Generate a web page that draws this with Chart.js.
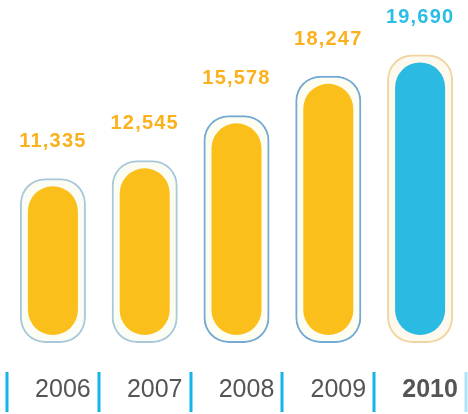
<!DOCTYPE html>
<html>
<head>
<meta charset="utf-8">
<script src="https://cdn.jsdelivr.net/npm/chart.js@4.4.1/dist/chart.umd.min.js"></script>
<style>
  html, body { margin: 0; padding: 0; background: #fff; }
  #wrap { width: 468px; height: 414px; }
</style>
</head>
<body>
<div id="wrap"><canvas id="tahunan"></canvas></div>
<script>
const years = ["2006", "2007", "2008", "2009", "2010"];
const totals = [11335, 12545, 15578, 18247, 19690];
const axisFloor = 1300;
const axisTop = 23900;
const fillColors = ["#fbbf1c", "#fbbf1c", "#fbbf1c", "#fbbf1c", "#2bbbe2"];
const ringColors = ["#a9c9da", "#a9c9da", "#74aad4", "#74aad4", "#efd5a2"];
const ringFills = ["#fbfdf4", "#fbfdf4", "#fdfdf2", "#fdfdf2", "#fdf9ee"];
const labelColors = ["#fab11d", "#fab11d", "#fab11d", "#fab11d", "#2cbde6"];

const tahunan = document.getElementById("tahunan");

// angka di atas batang
const angkaPlugin = {
  id: "angka",
  afterDatasetsDraw(chart) {
    const ctx = chart.ctx;
    const meta = chart.getDatasetMeta(0);
    ctx.save();
    ctx.font = "bold 20px 'Liberation Sans', Arial, sans-serif";
    ctx.letterSpacing = "1.2px";
    ctx.textAlign = "center";
    ctx.textBaseline = "alphabetic";
    meta.data.forEach((bar, i) => {
      ctx.fillStyle = labelColors[i];
      ctx.fillText(totals[i].toLocaleString("en-US"), bar.x, bar.y - 39);
    });
    ctx.restore();
  },
};

// garis biru pemisah tahun
const garisPlugin = {
  id: "garis",
  afterDraw(chart) {
    const ctx = chart.ctx;
    const x = chart.scales.x;
    const top = chart.chartArea.bottom + 37;
    ctx.save();
    ctx.lineWidth = 3;
    for (let i = 0; i <= years.length; i++) {
      const px = Math.round(x.getPixelForValue(i - 0.5));
      ctx.strokeStyle = i === years.length ? "rgba(18,180,234,0.35)" : "#12b4ea";
      ctx.beginPath();
      ctx.moveTo(px, top);
      ctx.lineTo(px, top + 40);
      ctx.stroke();
    }
    ctx.restore();
  },
};

new Chart(tahunan, {
  type: "bar",
  data: {
    labels: years,
    datasets: [
      {
        data: totals,
        base: axisFloor,
        backgroundColor: fillColors,
        borderRadius: 25,
        borderSkipped: false,
        barPercentage: 0.545,
        categoryPercentage: 1,
        grouped: false,
        order: 0,
        clip: false,
      },
      {
        data: totals,
        base: axisFloor,
        backgroundColor: ringFills,
        borderColor: ringColors,
        borderWidth: 2,
        borderRadius: 25,
        borderSkipped: false,
        inflateAmount: 8,
        barPercentage: 0.545,
        categoryPercentage: 1,
        grouped: false,
        order: 1,
        clip: false,
      },
    ],
  },
  options: {
    responsive: true,
    maintainAspectRatio: false,
    animation: false,
    layout: { padding: { left: 7, right: 2, top: 0, bottom: 9 } },
    plugins: {
      legend: { display: false },
      tooltip: { enabled: false },
    },
    scales: {
      x: {
        grid: { display: true, drawOnChartArea: false, drawTicks: true, tickLength: 40, tickColor: "rgba(0,0,0,0)" },
        border: { display: false },
        ticks: {
          padding: 0,
          labelOffset: 10,
          color: "#555555",
          font: (c) => {
            if (c.index === 4) return { family: "'Liberation Sans', Arial, sans-serif", size: 25, weight: "bold" };
            return { family: "'Liberation Sans', Arial, sans-serif", size: 25 };
          },
        },
      },
      y: {
        display: false,
        min: axisFloor,
        max: axisTop,
      },
    },
  },
  plugins: [angkaPlugin, garisPlugin],
});
</script>
</body>
</html>
